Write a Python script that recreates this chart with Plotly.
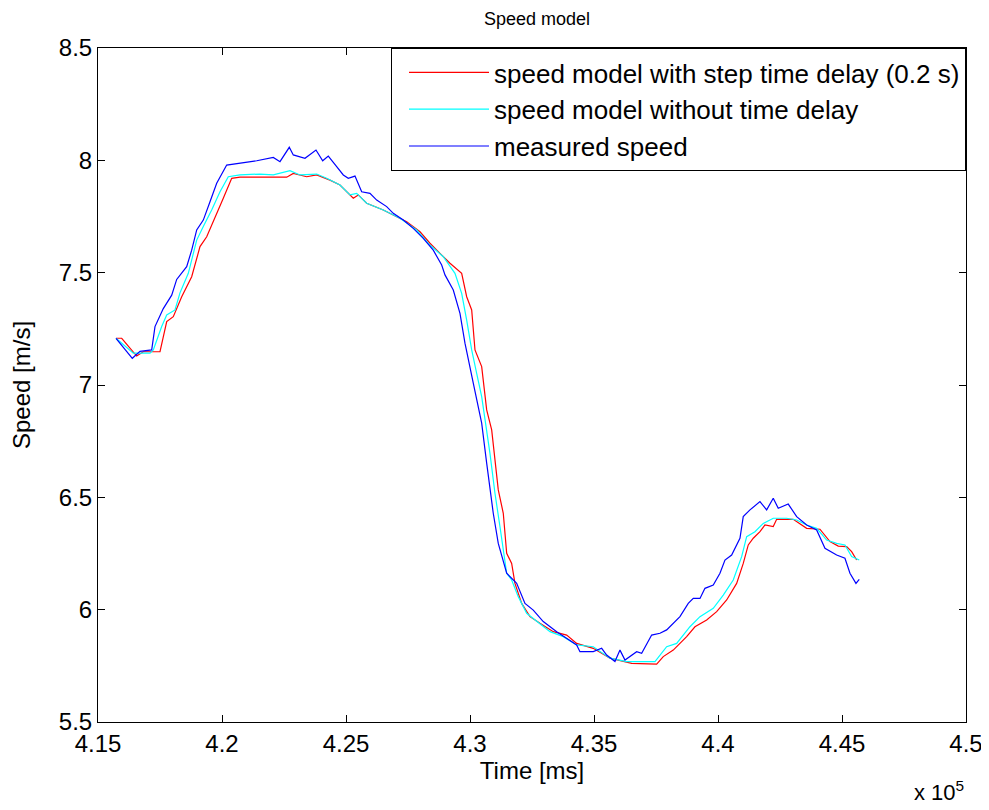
import plotly.graph_objects as go

# Time in ms, speed in m/s
t_measured = [415726, 416383, 416693, 417165, 417298, 417633, 417972, 418173, 418576, 418778,
              418980, 419246, 419516, 419786, 420189, 420725, 421399, 422068, 422338, 422713,
              422875, 423346, 423790, 424060, 424286, 424624, 424891, 425092, 425362, 425632,
              425967, 426237, 426640, 426907, 427310, 427713, 428116, 428519, 428858, 428991,
              429326, 429596, 429797, 430132, 430471, 430672, 430938, 431140, 431479, 431882,
              432217, 432551, 432954, 433495, 434301, 434434, 434970, 435309, 435511, 435845,
              436047, 436249, 436720, 436922, 437325, 437660, 437930, 438466, 438801, 439003,
              439273, 439474, 439809, 440079, 440281, 440551, 440885, 441018, 441289, 441692,
              441962, 442228, 442430, 442833, 443172, 443575, 443978, 444313, 444784, 445119,
              445321, 445563, 445696]
v_measured = [7.208, 7.119, 7.150, 7.156, 7.260, 7.340, 7.400, 7.470, 7.527, 7.600,
              7.690, 7.734, 7.816, 7.898, 7.979, 7.987, 7.998, 8.013, 7.994, 8.058,
              8.024, 8.009, 8.046, 7.998, 8.019, 7.972, 7.935, 7.920, 7.930, 7.860,
              7.853, 7.823, 7.794, 7.764, 7.734, 7.697, 7.653, 7.600, 7.534, 7.490,
              7.423, 7.319, 7.186, 7.008, 6.830, 6.652, 6.429, 6.295, 6.162, 6.117,
              6.028, 5.998, 5.947, 5.902, 5.843, 5.813, 5.813, 5.828, 5.798, 5.769,
              5.820, 5.776, 5.813, 5.806, 5.887, 5.895, 5.910, 5.969, 6.028, 6.050,
              6.050, 6.095, 6.110, 6.162, 6.221, 6.243, 6.318, 6.414, 6.444, 6.481,
              6.444, 6.496, 6.451, 6.470, 6.414, 6.377, 6.355, 6.273, 6.243, 6.229,
              6.162, 6.117, 6.135]

t_no_delay = [415726, 416423, 417097, 417230, 417568, 417770, 418105, 418306, 418641, 418980,
              419246, 419584, 419919, 420254, 420725, 421532, 422068, 422741, 423145, 423818,
              424221, 424757, 425161, 425431, 425834, 426503, 427177, 427850, 428386, 428923,
              429394, 429664, 429866, 430068, 430269, 430471, 430805, 431007, 431209, 431479,
              431680, 431946, 432285, 432688, 433225, 433761, 434301, 434970, 435644, 436317,
              437458, 437930, 438333, 438869, 439273, 439809, 440212, 440615, 440954, 441156,
              441490, 441825, 442228, 442768, 443172, 443575, 443978, 444381, 444784, 445119,
              445389, 445696]
v_no_delay = [7.208, 7.142, 7.142, 7.156, 7.260, 7.312, 7.334, 7.410, 7.497, 7.645,
              7.705, 7.779, 7.860, 7.927, 7.935, 7.939, 7.935, 7.954, 7.935, 7.939,
              7.920, 7.890, 7.846, 7.853, 7.809, 7.779, 7.742, 7.690, 7.623, 7.571,
              7.497, 7.408, 7.289, 7.156, 7.052, 6.948, 6.696, 6.518, 6.369, 6.162,
              6.132, 6.058, 5.984, 5.947, 5.902, 5.880, 5.843, 5.835, 5.784, 5.769,
              5.769, 5.835, 5.850, 5.924, 5.969, 6.006, 6.065, 6.132, 6.236, 6.325,
              6.347, 6.384, 6.407, 6.407, 6.399, 6.377, 6.362, 6.310, 6.295, 6.288,
              6.236, 6.221]

t_step_delay = [415726, 415956, 416560, 416826, 417500, 417770, 418036, 418375, 418778, 419113,
                419383, 419717, 420052, 420391, 420725, 421802, 422608, 422875, 423415, 423818,
                424354, 424757, 425294, 425495, 425834, 426503, 427447, 427983, 428386, 428789,
                429193, 429664, 429866, 430068, 430201, 430471, 430672, 430874, 431140, 431342,
                431479, 431680, 431813, 432084, 432418, 432821, 433358, 433898, 434301, 434970,
                435644, 436519, 437124, 437527, 437793, 438196, 438736, 439071, 439543, 439946,
                440349, 440752, 441018, 441220, 441422, 441692, 441893, 442228, 442365, 443034,
                443575, 444111, 444514, 444849, 445187, 445389, 445591]
v_step_delay = [7.208, 7.208, 7.129, 7.148, 7.148, 7.282, 7.304, 7.393, 7.482, 7.616,
                7.660, 7.749, 7.831, 7.920, 7.925, 7.925, 7.925, 7.942, 7.927, 7.935,
                7.912, 7.890, 7.831, 7.846, 7.809, 7.779, 7.727, 7.682, 7.631, 7.586,
                7.542, 7.497, 7.393, 7.334, 7.156, 7.082, 6.889, 6.800, 6.533, 6.429,
                6.251, 6.206, 6.117, 6.028, 5.969, 5.939, 5.902, 5.887, 5.850, 5.828,
                5.784, 5.761, 5.761, 5.758, 5.791, 5.820, 5.880, 5.924, 5.954, 5.991,
                6.043, 6.117, 6.206, 6.288, 6.318, 6.347, 6.377, 6.370, 6.402, 6.402,
                6.362, 6.358, 6.303, 6.283, 6.281, 6.258, 6.221]

x_tickvals = [415000, 420000, 425000, 430000, 435000, 440000, 445000, 450000]
x_ticktext = ["4.15", "4.2", "4.25", "4.3", "4.35", "4.4", "4.45", "4.5"]
y_tickvals = [5.5, 6, 6.5, 7, 7.5, 8, 8.5]
y_ticktext = ["5.5", "6", "6.5", "7", "7.5", "8", "8.5"]

FONT = "Liberation Sans, Arial, sans-serif"
W, H = 981, 802   # page body adds an 8 px margin at top/left

fig = go.Figure()
fig.add_trace(go.Scatter(x=t_step_delay, y=v_step_delay, mode="lines",
                         name="speed model with step time delay (0.2 s)",
                         line=dict(color="#FF0000", width=1.2)))
fig.add_trace(go.Scatter(x=t_no_delay, y=v_no_delay, mode="lines",
                         name="speed model without time delay",
                         line=dict(color="#00FFFF", width=1.2)))
fig.add_trace(go.Scatter(x=t_measured, y=v_measured, mode="lines",
                         name="measured speed",
                         line=dict(color="#0000FF", width=1.2)))

axis_common = dict(showgrid=False, zeroline=False, showline=True, linecolor="black",
                   linewidth=1, ticks="inside", ticklen=7, tickcolor="black",
                   mirror="allticks", automargin=False,
                   tickfont=dict(family=FONT, size=24, color="black"))

fig.update_layout(
    width=W, height=H,
    margin=dict(l=90, r=23, t=40, b=88),
    paper_bgcolor="white", plot_bgcolor="white",
    font=dict(family=FONT, color="black"),
    title=dict(text="Speed model", x=(537 - 8) / W, xanchor="center",
               y=1 - 11 / H, yanchor="middle", font=dict(family=FONT, size=18)),
    xaxis=dict(range=[415000, 450000], tickvals=x_tickvals, ticktext=x_ticktext,
               title=dict(text="Time [ms]", font=dict(family=FONT, size=24), standoff=6),
               **axis_common),
    yaxis=dict(range=[5.5, 8.5], tickvals=y_tickvals, ticktext=y_ticktext,
               title=dict(text="Speed [m/s]", font=dict(family=FONT, size=24), standoff=35),
               **axis_common),
    legend=dict(x=1, xanchor="right", y=1, yanchor="top", bgcolor="white",
                bordercolor="black", borderwidth=1,
                font=dict(family=FONT, size=26, color="black"),
                itemwidth=80, tracegroupgap=0, indentation=12),
    showlegend=True,
)
fig.add_annotation(text="x 10<sup>5</sup>", xref="paper", yref="paper",
                   x=1.0, y=-0.078, xanchor="right", yanchor="top", showarrow=False,
                   font=dict(family=FONT, size=22, color="black"))

fig.write_html("out.html")
